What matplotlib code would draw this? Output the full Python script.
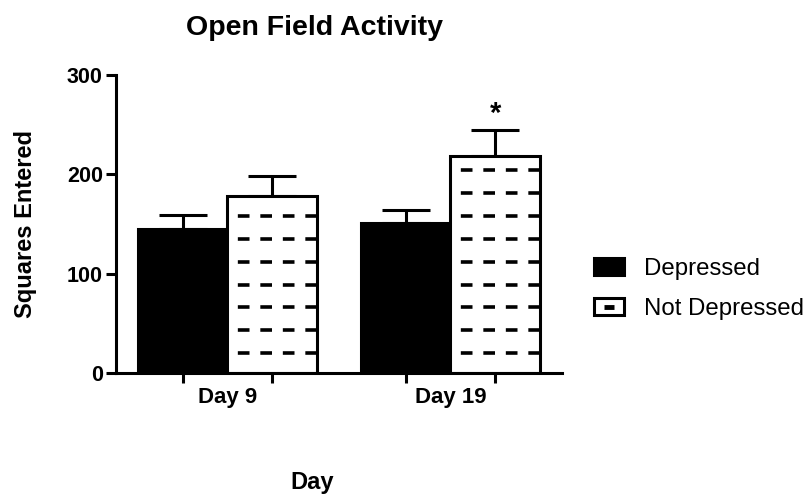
import numpy as np
import matplotlib
matplotlib.use('Agg')
from matplotlib import pyplot as plt
from matplotlib.patches import Patch
from matplotlib.lines import Line2D
from matplotlib.legend_handler import HandlerTuple

plt.rcParams['font.family'] = ['Liberation Sans', 'DejaVu Sans']
plt.rcParams['lines.scale_dashes'] = False

days = ['Day 9', 'Day 19']
depressed = [145, 151]
depressed_sem = [14, 13]
not_depressed = [178, 218]
not_depressed_sem = [20, 27]
signif = ['', '*']

fig = plt.figure(figsize=(8.1, 4.96), dpi=100)
ax = fig.add_axes([0.1432, 0.248, 0.5506, 0.6008])

x = np.arange(len(days))
w = 0.4
lw = 2.2

ax.bar(x - w/2, depressed, w, color='black', edgecolor='black', linewidth=lw, zorder=2)
ax.bar(x + w/2, not_depressed, w, color='white', edgecolor='black', linewidth=lw, zorder=2)
ax.errorbar(x - w/2, depressed, yerr=[np.zeros(2), depressed_sem], fmt='none',
            ecolor='black', elinewidth=lw, capsize=17, capthick=lw, zorder=1)
ax.errorbar(x + w/2, not_depressed, yerr=[np.zeros(2), not_depressed_sem], fmt='none',
            ecolor='black', elinewidth=lw, capsize=17, capthick=lw, zorder=1)

# dashed pattern inside the white bars
for xi, top in zip(x + w/2, not_depressed):
    y = 20
    while y < top - 10:
        ax.hlines(y, xi - w/2, xi + w/2, colors='black', linewidth=2.6,
                  linestyles=(8.4, (8.4, 7.8)), capstyle='butt', zorder=3)
        y += 23

for xi, top, err, s in zip(x + w/2, not_depressed, not_depressed_sem, signif):
    if s:
        ax.annotate(s, (xi, top + err), xytext=(0, 1), textcoords='offset points',
                    ha='center', va='bottom', fontsize=21, fontweight='bold')

ax.set_xlim(-0.5, 1.5)
ax.set_ylim(0, 300)
ax.set_yticks([0, 100, 200, 300])
ax.set_xticks(np.concatenate([x - w/2, x + w/2]))
ax.set_xticklabels([])
ax.set_xticks(x, minor=True)
ax.set_xticklabels(days, minor=True)
ax.tick_params(axis='x', which='minor', length=0, pad=10, labelsize=16)
ax.tick_params(axis='x', which='major', length=7.5, width=lw, direction='out')
ax.tick_params(axis='y', length=7.5, width=lw, direction='out', pad=2, labelsize=15.5)
for lab in ax.get_xticklabels(minor=True) + ax.get_yticklabels():
    lab.set_fontweight('bold')

for side in ['top', 'right']:
    ax.spines[side].set_visible(False)
for side in ['left', 'bottom']:
    ax.spines[side].set_linewidth(lw)

ax.set_ylabel('Squares Entered', fontsize=17, fontweight='bold', va='center')
ax.yaxis.set_label_coords(-0.204, 0.5)
ax.set_xlabel('Day', fontsize=17, fontweight='bold', va='center')
ax.xaxis.set_label_coords(0.44, -0.369)

fig.text(315/810, 1 - 28/496, 'Open Field Activity', ha='center', va='center',
         fontsize=20.5, fontweight='bold')

h1 = Patch(facecolor='black', edgecolor='black', linewidth=lw)
h2 = (Patch(facecolor='white', edgecolor='black', linewidth=lw),
      Line2D([], [], color='black', marker='_', markersize=7, markeredgewidth=3.5, linestyle='none'))
fig.legend([h1, h2], ['Depressed', 'Not Depressed'], loc='center left',
           bbox_to_anchor=(594/810, 1 - 289/496), frameon=False, fontsize=17.3,
           handlelength=1.25, handleheight=0.72, handletextpad=0.85,
           labelspacing=0.75, borderpad=0, borderaxespad=0,
           handler_map={tuple: HandlerTuple(ndivide=1)})

fig.savefig('out.png', dpi=100)
